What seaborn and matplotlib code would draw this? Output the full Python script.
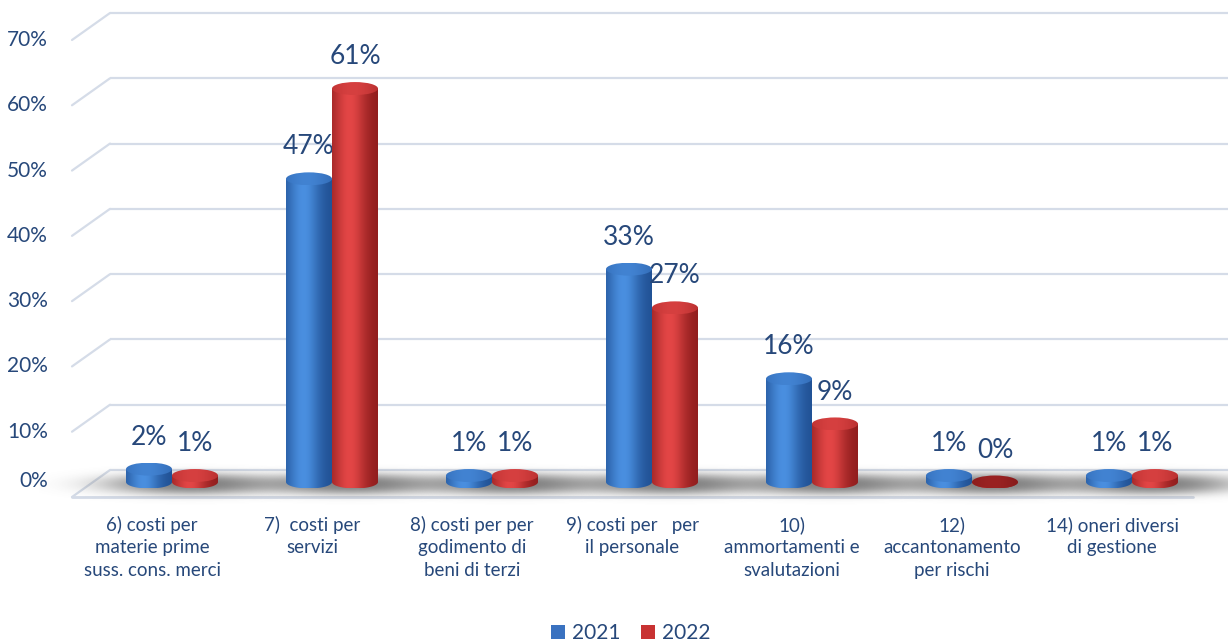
import numpy as np
import pandas as pd
import matplotlib
matplotlib.use("Agg")
import matplotlib.pyplot as plt
from matplotlib.patches import Polygon, Ellipse, Patch
from matplotlib.colors import to_rgb
import seaborn as sns

# ---- data -----------------------------------------------------------------
categories = [
    "6) costi per\nmaterie prime\nsuss. cons. merci",
    "7)  costi per\nservizi",
    "8) costi per per\ngodimento di\nbeni di terzi",
    "9) costi per   per\nil personale",
    "10)\nammortamenti e\nsvalutazioni",
    "12)\naccantonamento\nper rischi",
    "14) oneri diversi\ndi gestione",
]
years = ["2021", "2022"]
values_2021 = [2, 47, 1, 33, 16, 1, 1]
values_2022 = [1, 61, 1, 27, 9, 0, 1]
tick_values = [0, 10, 20, 30, 40, 50, 60, 70]

df = pd.DataFrame({
    "categoria": categories * 2,
    "anno": [years[0]] * len(categories) + [years[1]] * len(categories),
    "valore": values_2021 + values_2022,
})

# ---- style ----------------------------------------------------------------
sns.set_style("white")
plt.rcParams["font.family"] = ["Lato", "DejaVu Sans"]
TEXT = "#27487a"
GRID = "#d5dce8"
palette = {"2021": "#3a72c0", "2022": "#c83232"}
body_shades = {"2021": ("#1f4f92", "#4a8fe0"), "2022": ("#8e1c1c", "#e34646")}
cap_shades = {"2021": ("#2a5fa8", "#4283d2"), "2022": ("#a82626", "#d64040")}

# pixel geometry of the drawing area (figure is 1228 x 643 px)
PX_X = 160.0        # pixels per category step
X0_PX = 172.0       # pixel column of the first category
PX_Y = 6.45         # pixels per percentage point for the cylinders
BASE_PX = 482.0     # pixel row of the cylinder bases
WALL_PX = 457 / 70  # pixels per percentage point on the back wall


def xd(px):
    return (px - X0_PX) / PX_X


def yd(py):
    return (BASE_PX - py) / PX_Y


fig = plt.figure(figsize=(12.28, 6.43), dpi=100)
ax = fig.add_axes([0, 0, 1, 1])

sns.barplot(data=df, x="categoria", y="valore", hue="anno", order=categories,
            hue_order=years, palette=palette, width=0.575, errorbar=None,
            legend=False, ax=ax)

XLIM = (xd(0), xd(1228))
YLIM = (yd(643), yd(0))


def gradient(c_dark, c_light, n=96, centre=0.38, spread=0.36):
    t = np.linspace(0, 1, n)
    b = np.exp(-((t - centre) / spread) ** 2)
    d, l = np.array(to_rgb(c_dark)), np.array(to_rgb(c_light))
    return (d[None, :] + (l - d)[None, :] * b[:, None])[None, :, :]


# ---- back wall grid and floor ---------------------------------------------
x_back0, x_front0 = xd(110), xd(72)
for v in tick_values:
    pb = 470 - v * WALL_PX
    pf = pb + 27
    ax.plot([x_back0, XLIM[1]], [yd(pb), yd(pb)], color=GRID, lw=1.6,
            zorder=1, solid_capstyle="butt")
    ax.plot([x_front0, x_back0], [yd(pf), yd(pb)], color=GRID, lw=1.6,
            zorder=1)
    label_px = pf if v > 0 else pb + 11
    ax.text(xd(48), yd(label_px), f"{v}%", ha="right", va="center",
            fontsize=15, color=TEXT)

ax.plot([x_front0, xd(1193)], [yd(497), yd(497)], color=GRID, lw=2.0,
        zorder=1)

# ---- soft floor shadows ---------------------------------------------------
eh = 13 / PX_Y  # ellipse height of the cylinder caps
for i in range(len(categories)):
    xc = i + 0.12
    ext = [xc - 0.95, xc + 0.95, yd(510), yd(458)]
    gx = np.linspace(ext[0], ext[1], 320)
    gy = np.linspace(ext[2], ext[3], 90)
    X, Y = np.meshgrid(gx, gy)
    r = ((X - xc) / 0.55) ** 2 + ((Y - yd(484)) / 1.7) ** 2
    alpha = 0.85 * np.exp(-r ** 1.3)
    img = np.zeros(X.shape + (4,))
    img[..., :3] = 0.42
    img[..., 3] = alpha
    ax.imshow(img, extent=ext, origin="lower", aspect="auto", zorder=2,
              interpolation="bilinear")

# ---- cylinders ------------------------------------------------------------
for k, (container, year) in enumerate(zip(ax.containers, years)):
    for bar in container:
        bar.set_facecolor("none")
        bar.set_edgecolor("none")
        x0, w, h = bar.get_x(), bar.get_width(), bar.get_height()
        xc = x0 + w / 2
        z = 3 + k
        t = np.linspace(0, -np.pi, 60)
        arc = np.column_stack([xc + w / 2 * np.cos(t), eh / 2 * np.sin(t)])
        pts = np.vstack([[x0, h], [x0 + w, h], arc, [x0, h]])
        body = Polygon(pts, closed=True, facecolor="none", edgecolor="none",
                       transform=ax.transData)
        ax.add_patch(body)
        im = ax.imshow(gradient(*body_shades[year]),
                       extent=[x0, x0 + w, -eh / 2, h + eh / 2],
                       aspect="auto", zorder=z, interpolation="bilinear")
        im.set_clip_path(body)

        cap = Ellipse((xc, h), w, eh, facecolor="none", edgecolor="none",
                      transform=ax.transData)
        ax.add_patch(cap)
        shades = cap_shades[year] if h > 0 else ("#7a1616", "#9a2222")
        imc = ax.imshow(gradient(*shades, centre=0.45, spread=0.6),
                        extent=[x0, x0 + w, h - eh / 2, h + eh / 2],
                        aspect="auto", zorder=z + 0.1,
                        interpolation="bilinear")
        imc.set_clip_path(cap)

    ax.bar_label(container, labels=[f"{v:.0f}%" for v in container.datavalues],
                 padding=14, fontsize=19, color=TEXT)

# ---- category labels ------------------------------------------------------
for i, cat in enumerate(categories):
    ax.text(i - 0.125, yd(516), cat, ha="center", va="top",
            fontsize=13.5, color=TEXT, linespacing=1.38)

# ---- legend ---------------------------------------------------------------
handles = [Patch(facecolor=palette[y], edgecolor="none", label=y) for y in years]
fig.legend(handles=handles, loc="center", ncol=2, frameon=False,
           bbox_to_anchor=(631 / 1228, 1 - 633 / 643), fontsize=15,
           labelcolor=TEXT, handlelength=0.65, handleheight=0.65,
           handletextpad=0.35, columnspacing=1.0)

ax.set_xlim(*XLIM)
ax.set_ylim(*YLIM)
ax.set_axis_off()

fig.savefig("out.png", dpi=100)
